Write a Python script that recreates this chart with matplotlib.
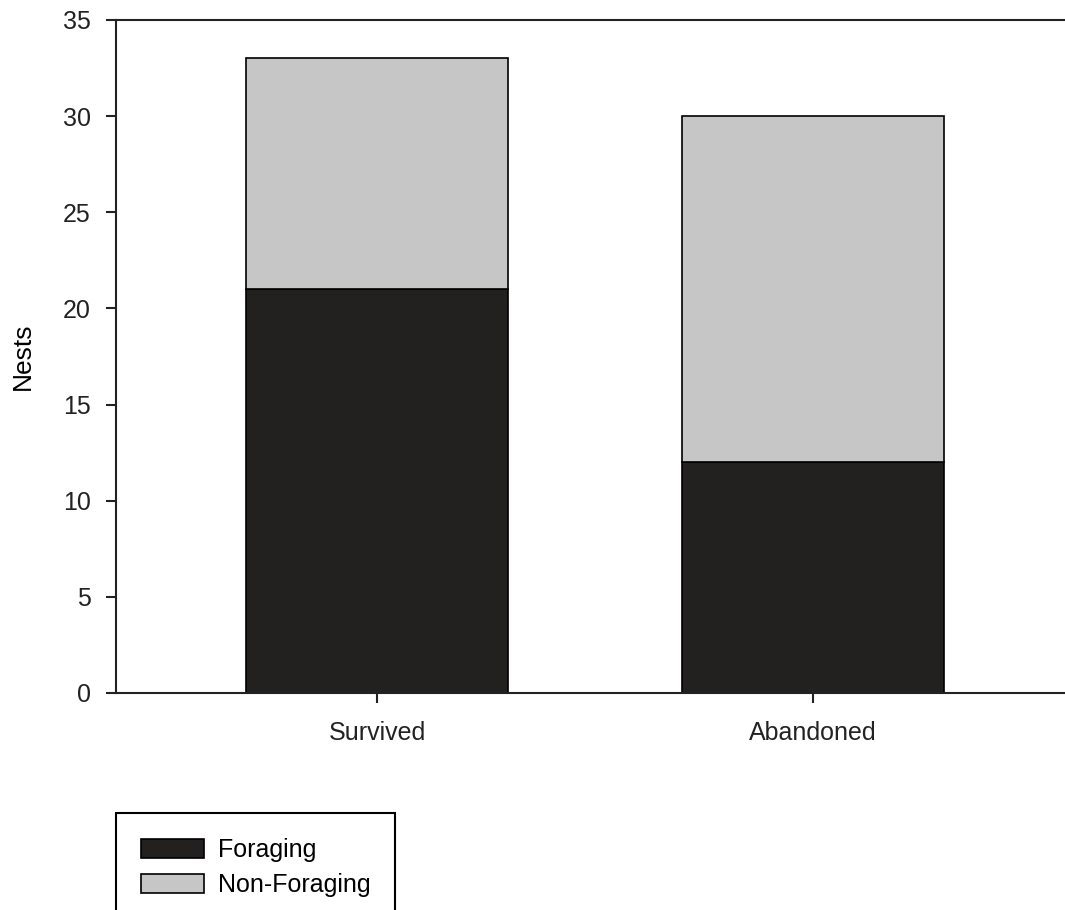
import matplotlib
matplotlib.use("Agg")
import matplotlib.pyplot as plt

# data
groups = ["Survived", "Abandoned"]
foraging = [21, 12]
non_foraging = [12, 18]

dark = "#222120"
light = "#c6c6c6"

plt.rcParams['font.family'] = ['Liberation Sans', 'DejaVu Sans']

fig = plt.figure(figsize=(10.65, 9.10), dpi=100)
ax = fig.add_axes([116/1065, 1 - 693/910, 1 - 116/1065, (693 - 20)/910])

x = list(range(len(groups)))
w = 0.601
ax.bar(x, foraging, width=w, color=dark, edgecolor="black", linewidth=1.2, label="Foraging")
ax.bar(x, non_foraging, width=w, bottom=foraging, color=light, edgecolor="black",
       linewidth=1.2, label="Non-Foraging")

ax.set_xlim(-0.5986, 1.578)
ax.set_ylim(0, 35)
ax.set_yticks(range(0, 36, 5))
ax.set_xticks(x)
ax.set_xticklabels(groups)
ax.set_ylabel("Nests", fontsize=19, labelpad=20)

for side in ["left", "bottom", "top"]:
    ax.spines[side].set_linewidth(1.5)
    ax.spines[side].set_color("#222222")
ax.spines["right"].set_visible(False)
ax.tick_params(direction="out", length=7, width=1.5, labelsize=18, colors="#222222", pad=11)
ax.tick_params(axis="x", pad=13)

leg = fig.legend(loc="upper left", bbox_to_anchor=(116/1065, 1 - 813/910),
                 bbox_transform=fig.transFigure, fontsize=18, frameon=True,
                 fancybox=False, framealpha=1, edgecolor="black",
                 handlelength=2.5, handleheight=0.8, handletextpad=0.56,
                 labelspacing=0.45, borderpad=1.0, borderaxespad=0)
leg.get_frame().set_linewidth(1.5)

fig.savefig("out.png", dpi=100)
